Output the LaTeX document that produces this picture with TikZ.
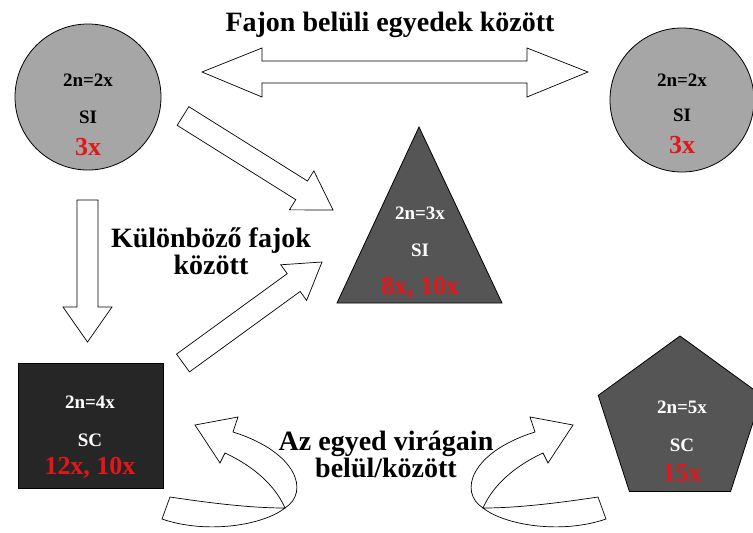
\documentclass[tikz,border=0pt]{standalone}
\usepackage{fontspec}
\setmainfont{Liberation Serif}
\usetikzlibrary{calc,shapes.geometric}
\definecolor{myred}{RGB}{228,22,26}
\definecolor{lgray}{RGB}{166,166,166}
\definecolor{dgray}{RGB}{85,85,85}
\definecolor{vdark}{RGB}{38,38,38}
\newcommand\blockarr[5]{%
  \coordinate (ba-h) at ($(#2)!#5!(#1)$);
  \draw[barrow] ($(#1)!#3!90:(#2)$) -- ($(ba-h)!#3!90:(#2)$) -- ($(ba-h)!#4!90:(#2)$) -- (#2)
    -- ($(ba-h)!#4!-90:(#2)$) -- ($(ba-h)!#3!-90:(#2)$) -- ($(#1)!#3!-90:(#2)$) -- cycle;}
\newcommand\curvedarr{%
    \draw[barrow] (170,497) .. controls (210,503) and (250,508) .. (285,508)
       .. controls (262,526) and (205,534) .. (162,519) -- cycle;
    \draw[barrow] (285,508) .. controls (310,492) and (297,452) .. (233,432)
       -- (238,417) -- (195,425) -- (220,463) -- (225,453)
       .. controls (253,466) and (275,485) .. (285,508) -- cycle;}
\begin{document}
\begin{tikzpicture}[x=1pt,y=-1pt,
  outl/.style={draw=black, line width=0.8pt},
  barrow/.style={draw=black, fill=white, line width=0.7pt, line join=miter},
  big/.style={font=\bfseries\fontsize{28}{27}\selectfont, align=center, inner sep=0pt},
  small/.style={font=\bfseries\fontsize{19}{21}\selectfont, inner sep=0pt},
  redl/.style={font=\bfseries\fontsize{26}{28}\selectfont, text=myred, inner sep=0pt}]
\useasboundingbox (0,0) rectangle (753,533);
\clip (0,0) rectangle (753,533);
\fill[white] (0,0) rectangle (753,533);

% shapes
\node[circle, outl, fill=lgray, minimum size=146pt, inner sep=0pt] (c1) at (88,97) {};
\node[circle, outl, fill=lgray, minimum size=144pt, inner sep=0pt] (c2) at (682,100) {};
\coordinate (t1) at (337,303);
\coordinate (t2) at (502,303);
\coordinate (t3) at (419,127);
\draw[outl, fill=dgray] (t1) -- (t2) -- (t3) -- cycle;
\node[rectangle, outl, fill=vdark, minimum width=145pt, minimum height=125pt, inner sep=0pt] (sq) at (90.5,425.5) {};
\node[regular polygon, regular polygon sides=5, outl, fill=dgray, minimum size=172pt, inner sep=0pt] (pe) at (680,422) {};

% texts in shapes
\node[small] (c1a) at (88,80) {2n=2x};
\node[small] (c1b) at (88,117) {SI};
\node[redl] (c1c) at (88,147) {3x};
\node[small] (c2a) at (682,80) {2n=2x};
\node[small] (c2b) at (682,115) {SI};
\node[redl] (c2c) at (682,145) {3x};
\node[small, text=white] (tra) at (420,213) {2n=3x};
\node[small, text=white] (trb) at (420,250) {SI};
\node[redl] (trc) at (420,288) {8x, 10x};
\node[small, text=white] (sqa) at (90,402) {2n=4x};
\node[small, text=white] (sqb) at (90,440) {SC};
\node[redl] (sqc) at (90,468) {12x, 10x};
\node[small, text=white] (pea) at (682,407) {2n=5x};
\node[small, text=white] (peb) at (682,445) {SC};
\node[redl] (pec) at (682,473) {15x};

% labels
\node[big] (title) at (390,25) {Fajon belüli egyedek között};
\node[big] (kul) at (211,251) {Különböző fajok\\között};
\node[big] (az) at (386,454) {Az egyed virágain\\belül/között};

% double arrow
\coordinate (dl) at (202,72);
\coordinate (dr) at (588,72);
\draw[barrow] (dl) -- ($(dl)+(60,-24)$) -- ($(dl)+(60,-11)$) -- ($(dr)+(-61,-11)$) -- ($(dr)+(-61,-24)$)
  -- (dr) -- ($(dr)+(-61,25)$) -- ($(dr)+(-61,11)$) -- ($(dl)+(60,11)$) -- ($(dl)+(60,25)$) -- cycle;

% straight block arrows
\coordinate (a1s) at (183,116);
\coordinate (a1e) at (333,210);
\blockarr{a1s}{a1e}{11pt}{23pt}{37pt}
\coordinate (a2s) at (87.5,200);
\coordinate (a2e) at (87.5,342);
\blockarr{a2s}{a2e}{10.5pt}{24.5pt}{35pt}
\coordinate (a3s) at (183,363);
\coordinate (a3e) at (322,262);
\blockarr{a3s}{a3e}{11pt}{22pt}{35pt}

% curved arrows
\curvedarr
\begin{scope}[shift={(768,0)}, xscale=-1]
\curvedarr
\end{scope}
\end{tikzpicture}
\end{document}
